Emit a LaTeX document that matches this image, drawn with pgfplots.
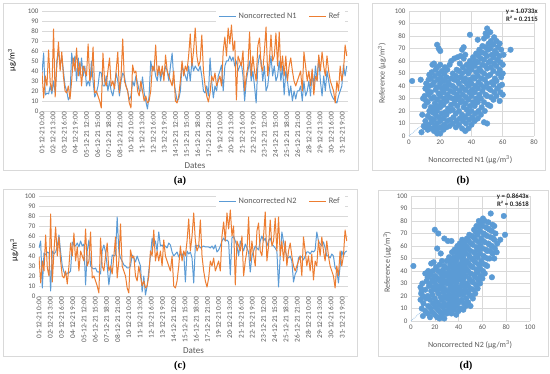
\documentclass[border=0pt]{standalone}
\usepackage{fontspec}
\setmainfont{Carlito}
\newfontfamily\labfont{Liberation Serif}
\usepackage{pgfplots}
\pgfplotsset{compat=1.18}
\usepackage{pgfplotstable}
\definecolor{xblue}{HTML}{5B9BD5}
\definecolor{xorange}{HTML}{ED7D31}
\definecolor{xgrid}{HTML}{D9D9D9}
\definecolor{xtext}{HTML}{595959}

\pgfplotstableread{
h ref n1 n2
0 39 38 48
4 13 58 55
8 35 16 8
12 25 18 43
16 61 17 41
20 28 25 44
24 20 17 43
28 82 30 5
32 14 18 45
36 45 50 42
40 69 60 44
44 40 45 50
48 59 55 61
52 35 40 44
56 20 25 30
60 18 20 24
64 25 11 21
68 12 15 23
72 30 58 23
76 53 45 25
80 40 55 54
84 63 30 51
88 35 53 50
92 49 35 53
96 25 53 49
100 45 35 55
104 40 45 50
108 35 25 52
112 67 30 11
116 30 25 45
120 35 50 56
124 64 30 30
128 18 14 28
132 20 18 27
136 15 25 28
140 10 39 24
144 3 38 24
148 58 25 22
152 30 25 45
156 25 35 51
160 40 20 44
164 53 30 30
168 25 20 11
172 30 15 25
176 22 25 41
180 40 38 40
184 59 30 41
188 18 15 79
192 35 30 45
196 72 38 38
200 30 35 35
204 25 25 31
208 20 20 30
212 8 11 28
216 3 15 28
220 46 30 30
224 38 25 41
228 40 35 38
232 20 28 34
236 15 20 40
240 30 20 35
244 20 34 30
248 10 18 4
252 15 10 20
256 8 2 1
260 10 15 10
264 20 50 25
268 45 40 40
272 40 45 58
276 66 35 50
280 35 30 55
284 45 45 45
288 35 30 64
292 45 40 50
296 30 35 51
300 56 45 48
304 40 40 50
308 35 30 48
312 30 45 53
316 25 58 51
320 40 30 44
324 10 20 40
328 8 10 42
332 15 12 44
336 30 20 39
340 50 45 42
344 35 40 40
348 45 35 44
352 40 30 14
356 55 45 45
360 77 30 42
364 45 50 44
368 60 40 38
372 83 45 13
376 55 42 51
380 45 40 50
384 50 45 51
388 76 35 48
392 40 20 49
396 25 18 50
400 15 25 49
404 9 15 49
408 18 53 49
412 35 30 48
416 30 13 50
420 38 25 47
424 25 20 51
428 30 35 44
432 35 40 46
436 25 46 50
440 60 20 55
444 74 45 58
448 55 50 55
452 83 50 56
456 67 55 54
460 86 50 21
464 60 54 58
468 70 45 60
472 11 50 55
476 55 40 50
480 50 45 40
484 45 48 55
488 60 35 50
492 20 10 45
496 35 30 52
500 45 40 48
504 79 50 44
508 35 30 24
512 55 40 40
516 40 25 45
520 30 8 50
524 65 45 48
528 73 56 46
532 45 50 55
536 40 30 60
540 60 45 55
544 84 20 58
548 35 25 50
552 50 40 55
556 76 55 58
560 50 35 52
564 55 45 50
568 78 30 48
572 45 35 45
576 79 50 9
580 40 30 40
584 55 45 64
588 35 16 54
592 55 40 45
596 30 30 40
600 45 15 38
604 53 25 40
608 40 10 35
612 30 20 14
616 25 12 22
620 30 20 25
624 35 20 38
628 40 25 40
632 20 10 39
636 59 30 36
640 45 15 40
644 30 20 44
648 40 30 44
652 25 15 42
656 42 40 45
660 16 25 44
664 35 45 46
668 30 30 64
672 56 54 55
676 40 30 52
680 59 15 50
684 45 35 54
688 35 20 48
692 55 40 40
696 40 30 40
700 30 20 38
704 25 15 42
708 20 12 40
712 8 10 28
716 30 8 26
720 20 15 13
724 45 20 30
728 30 25 45
732 40 46 40
736 66 35 44
740 55 45 45
}\ts

\pgfplotsset{
  tsaxis/.style={
    scale only axis, height=100pt,
    xmin=0, xmax=743, ymin=0, ymax=100,
    ytick={0,10,...,100},
    xtick={0,27,...,729},
    xticklabels={01-12-21 0:00,02-12-21 3:00,03-12-21 6:00,04-12-21 9:00,05-12-21 12:00,06-12-21 15:00,07-12-21 18:00,08-12-21 21:00,10-12-21 0:00,11-12-21 3:00,12-12-21 6:00,13-12-21 9:00,14-12-21 12:00,15-12-21 15:00,16-12-21 18:00,17-12-21 21:00,19-12-21 0:00,20-12-21 3:00,21-12-21 6:00,22-12-21 9:00,23-12-21 12:00,24-12-21 15:00,25-12-21 18:00,26-12-21 21:00,28-12-21 0:00,29-12-21 3:00,30-12-21 6:00,31-12-21 9:00},
    xticklabel style={rotate=90, anchor=east, font=\fontsize{7.3}{8}\selectfont, text=xtext, inner sep=1pt},
    yticklabel style={font=\fontsize{7}{8}\selectfont, text=xtext},
    /pgf/number format/assume math mode=true,
    ymajorgrids, major grid style={xgrid, line width=0.6pt},
    axis x line*=bottom, axis y line*=left,
    y axis line style={draw=none},
    x axis line style={draw=xgrid, line width=0.6pt, -},
    tick style={draw=none},
    xlabel style={font=\fontsize{9}{10}\selectfont, text=xtext},
    ylabel style={font=\fontsize{8.5}{10}\selectfont, text=black},
    legend style={draw=none, fill=white, font=\fontsize{8.3}{9}\selectfont, text=xtext,
      legend columns=2, /tikz/every even column/.append style={column sep=10pt}},
    legend image code/.code={\draw[#1, line width=1.2pt] (0pt,0pt) -- (17pt,0pt);},
  },
  scaxis/.style={
    scale only axis, height=125pt, clip=false,
    ymin=0, ymax=100, ytick={0,10,...,100},
    grid=major, major grid style={xgrid, line width=0.6pt},
    axis line style={draw=none}, tick style={draw=none},
    ticklabel style={font=\fontsize{7}{8}\selectfont, text=xtext},
    /pgf/number format/assume math mode=true,
    xlabel style={font=\fontsize{8}{9}\selectfont, text=xtext},
    ylabel style={font=\fontsize{8}{9}\selectfont, text=xtext},
  },
  scmarks/.style={only marks, mark=*, mark size=2.8pt, mark options={draw=xblue, fill=xblue}},
}

\begin{document}
\begin{tikzpicture}
\useasboundingbox (0pt,0pt) rectangle (550pt,-374pt);
\fill[white] (0pt,0pt) rectangle (550pt,-374pt);
\draw[xgrid, line width=0.6pt] (3pt,-3pt) rectangle (358pt,-170pt);
\draw[xgrid, line width=0.6pt] (372pt,-3pt) rectangle (545pt,-170pt);
\draw[xgrid, line width=0.6pt] (3pt,-189pt) rectangle (357pt,-356pt);
\draw[xgrid, line width=0.6pt] (378pt,-190pt) rectangle (548pt,-356pt);

% (a)
\begin{axis}[tsaxis, width=306pt, at={(42pt,-111pt)}, anchor=south west,
  xlabel={Dates}, xlabel style={at={(axis description cs:0.5,-0.55)}, anchor=center},
  ylabel={µg/m\textsuperscript{3}}, ylabel style={at={(axis description cs:-0.098,0.51)}, anchor=center},
  legend style={at={(axis description cs:0.99,1.025)}, anchor=north east}]
\addplot[xblue, line width=1pt, line join=round] table[x=h, y=n1] {\ts};
\addlegendentry{Noncorrected N1}
\addplot[xorange, line width=1pt, line join=round] table[x=h, y=ref] {\ts};
\addlegendentry{Ref}
\end{axis}

% (c)
\begin{axis}[tsaxis, width=309pt, at={(39pt,-296pt)}, anchor=south west,
  xlabel={Dates}, xlabel style={at={(axis description cs:0.5,-0.55)}, anchor=center},
  ylabel={µg/m\textsuperscript{3}}, ylabel style={at={(axis description cs:-0.08,0.46)}, anchor=center},
  legend style={at={(axis description cs:0.99,1.02)}, anchor=north east}]
\addplot[xblue, line width=1pt, line join=round] table[x=h, y=n2] {\ts};
\addlegendentry{Noncorrected N2}
\addplot[xorange, line width=1pt, line join=round] table[x=h, y=ref] {\ts};
\addlegendentry{Ref}
\end{axis}

% (b)
\begin{axis}[scaxis, width=125pt, at={(409pt,-136pt)}, anchor=south west,
  xmin=0, xmax=80, xtick={0,20,...,80},
  xlabel={Noncorrected N1 (µg/m\textsuperscript{3})}, xlabel style={at={(axis description cs:0.49,-0.19)}, anchor=center},
  ylabel={Reference (µg/m\textsuperscript{3})}, ylabel style={at={(axis description cs:-0.216,0.5)}, anchor=center}]
\addplot[scmarks] coordinates {
(2,44) (8,3) (8.5,17) (7.5,45) (9,30) (9.5,8)
(10,7) (10.5,12) (10,24) (11,28) (10,32) (10.5,38) (11,42)
(12,5) (12.5,9) (12,16) (13,20) (12,27) (12.5,33) (12,36) (13,40) (12.5,45) (13,49)
(14,6) (14.5,11) (14,14) (15,19) (14,23) (14.5,30) (14,35) (15,41) (14,46) (14.5,51) (15,57)
(16,4) (16.5,8) (16,13) (17,17) (16,22) (16.5,26) (16,31) (17,37) (16,43) (16.5,48) (17,53) (16,58)
(18,2) (18.5,6) (18,10) (19,15) (18,20) (18.5,24) (18,29) (19,34) (18,39) (18.5,45) (19,50) (18,55) (18,73) (19,70)
(20,2) (20.5,7) (20,12) (21,18) (20,23) (20.5,27) (20,32) (21,38) (20,42) (20.5,47) (21,52) (20,57) (20,68)
(22,5) (22.5,9) (22,14) (23,19) (22,25) (22.5,30) (22,35) (23,40) (22,44) (22.5,50) (23,55)
(24,7) (24.5,12) (24,17) (25,22) (24,28) (24.5,33) (24,38) (25,43) (24,47) (24.5,53)
(26,8) (26.5,13) (26,20) (27,25) (26,31) (26.5,36) (26,41) (27,46) (26,57) (27,60)
(28,10) (28.5,15) (28,21) (29,26) (28,30) (28.5,35) (28,40) (29,45) (28,50) (29,62)
(30,7) (30.5,12) (30,18) (31,24) (30,29) (30.5,33) (30,38) (31,44) (30,48) (30.5,53) (31,63)
(32,9) (32.5,14) (32,20) (33,27) (32,31) (32.5,36) (32,42) (33,47) (32,52) (32.5,58) (33,64)
(34,6) (34.5,12) (34,17) (35,23) (34,28) (34.5,33) (34,39) (35,44) (34,50) (34.5,55) (35,62) (34,69) (35,71)
(36,4) (36.5,10) (36,15) (37,21) (36,26) (36.5,31) (36,37) (37,42) (36,46) (36.5,52) (37,57) (36,65)
(38,6) (38.5,13) (38,18) (39,24) (38,29) (38.5,35) (38,40) (39,45) (38,50) (38.5,55) (39,60) (39,81)
(40,9) (40.5,15) (40,20) (41,27) (40,32) (40.5,37) (40,42) (41,47) (40,53) (40.5,58) (41,63)
(42,12) (42.5,18) (42,24) (43,30) (42,35) (42.5,40) (42,46) (43,51) (42,56) (42.5,60) (43,66)
(44,14) (44.5,20) (44,27) (45,33) (44,38) (44.5,43) (44,48) (45,54) (44,59) (44.5,64) (45,69) (44,77)
(46,17) (46.5,23) (46,30) (47,36) (46,41) (46.5,46) (46,52) (47,57) (46,62) (46.5,67) (47,72)
(48,11) (48.5,20) (48,27) (49,33) (48,39) (48.5,45) (48,50) (49,56) (48,61) (48.5,66) (49,71) (48,78) (49,82)
(50,10) (50.5,25) (50,32) (51,38) (50,42) (50.5,48) (50,54) (51,59) (50,64) (50.5,69) (51,74) (50,80) (50,86)
(52,24) (52.5,31) (52,37) (53,43) (52,49) (52.5,55) (52,60) (53,65) (52,70) (52.5,76) (52,83)
(54,29) (54.5,35) (54,41) (55,46) (54,52) (54.5,58) (54,63) (55,68) (54,73) (54.5,79)
(56,32) (56.5,38) (56,44) (57,50) (56,56) (56.5,61) (56,66) (57,71) (56,76)
(58,28) (58.5,35) (58,40) (59,47) (58,53) (58.5,59) (58,64) (59,69) (58,74)
(60,33) (59.5,41) (60,50) (60,57) (60.5,65) (65,69)
};
\addplot[xblue!60, densely dotted, line width=0.8pt] coordinates {(0,0) (65,69.8)};
\node[anchor=north east, align=right, font=\bfseries\fontsize{6.8}{8}\selectfont, text=black!85, inner sep=1pt] at (axis description cs:1.04,1.025) {y = 1.0733x\\R² = 0.2115};
\end{axis}

% (d)
\begin{axis}[scaxis, width=119pt, at={(411pt,-321pt)}, anchor=south west,
  xmin=0, xmax=100, xtick={0,20,...,100},
  xlabel={Noncorrected N2 (µg/m\textsuperscript{3})}, xlabel style={at={(axis description cs:0.496,-0.19)}, anchor=center},
  ylabel={Reference (µg/m\textsuperscript{3})}, ylabel style={at={(axis description cs:-0.2,0.47)}, anchor=center}]
\addplot[scmarks] coordinates {
(2,44) (8,17) (8.5,22) (8,27) (9,10) (9.5,30) (9,24) (10,4) (10.5,14) (10,20)
(12,8) (12.5,18) (12,25) (13,32) (12,38)
(14,6) (14.5,12) (14,20) (15,28) (14,35) (14.5,40)
(16,3) (16.5,10) (16,17) (17,24) (16,30) (16.5,37) (17,46)
(18,7) (18.5,14) (18,21) (19,27) (18,33) (18.5,40) (19,47)
(20,5) (20.5,11) (20,18) (21,25) (20,31) (20.5,36) (21,43) (20,73)
(22,3) (22.5,9) (22,15) (23,22) (22,28) (22.5,34) (23,40) (22,58)
(24,2) (24.5,7) (24,13) (25,19) (24,26) (24.5,32) (25,38) (24,45) (23,70) (25,54)
(26,5) (26.5,11) (26,17) (27,23) (26,29) (26.5,35) (27,41) (26,48)
(28,2) (28.5,8) (28,14) (29,20) (28,26) (28.5,32) (29,38) (28,44) (28,66)
(30,6) (30.5,12) (30,18) (31,24) (30,30) (30.5,36) (31,42) (30,48) (31,64)
(32,9) (32.5,15) (32,21) (33,27) (32,33) (32.5,39) (33,45) (32,51)
(34,6) (34.5,12) (34,18) (35,24) (34,30) (34.5,36) (35,42) (34,48) (34.5,55) (34,64)
(36,9) (36.5,15) (36,21) (37,27) (36,33) (36.5,39) (37,45) (36,51) (36.5,57)
(38,5) (38.5,12) (38,18) (39,24) (38,30) (38.5,36) (39,42) (38,48) (38.5,54) (39,60)
(40,8) (40.5,15) (40,21) (41,27) (40,33) (40.5,39) (41,45) (40,51) (40.5,57) (41,62)
(42,10) (42.5,17) (42,24) (43,30) (42,36) (42.5,42) (43,48) (42,54) (42.5,60) (43,65)
(44,9) (44.5,14) (44,21) (45,27) (44,33) (44.5,39) (45,45) (44,51) (44.5,57) (45,63)
(46,12) (46.5,18) (46,24) (47,30) (46,36) (46.5,42) (47,48) (46,54) (46.5,60) (47,66)
(48,15) (48.5,22) (48,28) (49,34) (48,40) (48.5,46) (49,52) (48,58) (48.5,64) (49,69)
(50,12) (50.5,20) (50,26) (51,32) (50,38) (50.5,44) (51,50) (50,56) (50.5,62) (51,68)
(52,18) (52.5,25) (52,31) (53,37) (52,43) (52.5,49) (53,55) (52,61) (52.5,67) (53,73)
(54,22) (54.5,29) (54,35) (55,41) (54,47) (54.5,53) (55,59) (54,65) (54.5,71) (55,76)
(56,26) (56.5,33) (56,39) (57,45) (56,51) (56.5,57) (57,63) (56,69) (56.5,75) (57,80)
(58,30) (58.5,36) (58,42) (59,48) (58,54) (58.5,60) (59,66) (58,72) (58.5,78)
(60,34) (60.5,40) (60,46) (61,52) (60,58) (60.5,64) (61,70) (60,76) (60.5,82)
(62,38) (62.5,45) (62,51) (63,57) (62,63) (62.5,69) (63,75) (62,80)
(64,44) (64.5,50) (64,56) (65,62) (64,68) (64.5,74) (65,79)
(66,50) (66.5,56) (66,61) (67,67) (66,73) (67,86)
(68,35) (68.5,54) (68,60) (69,66) (68,72) (68.5,77)
(70,50) (70.5,58) (70,65) (71,70) (70,76)
(72,55) (72.5,62) (75,65) (78,84) (79,69)
};
\addplot[xblue!60, densely dotted, line width=0.8pt] coordinates {(0,0) (79,68.3)};
\node[anchor=north east, align=right, font=\bfseries\fontsize{6.8}{8}\selectfont, text=black!85, inner sep=1pt] at (axis description cs:1.0,1.03) {y = 0.8643x\\R² = 0.3618};
\end{axis}

\node[font=\labfont\bfseries\fontsize{10.5}{12}\selectfont] at (180pt,-181pt) {(a)};
\node[font=\labfont\bfseries\fontsize{10.5}{12}\selectfont] at (463pt,-181pt) {(b)};
\node[font=\labfont\bfseries\fontsize{10.5}{12}\selectfont] at (180pt,-366pt) {(c)};
\node[font=\labfont\bfseries\fontsize{10.5}{12}\selectfont] at (466pt,-366pt) {(d)};
\end{tikzpicture}
\end{document}
